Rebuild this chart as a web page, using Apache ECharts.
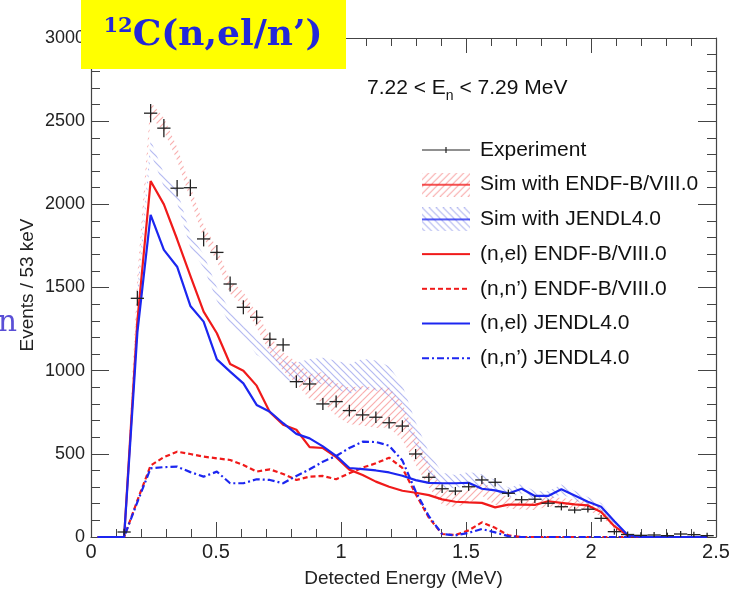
<!DOCTYPE html>
<html>
<head>
<meta charset="utf-8">
<title>12C(n,el/n') detected energy</title>
<script src="https://cdn.jsdelivr.net/npm/echarts@6/dist/echarts.min.js"></script>
<style>
  html, body { margin: 0; padding: 0; background: #fff; }
  #chart { width: 735px; height: 593px; }
</style>
</head>
<body>
<div id="chart"></div>
<script>
// bin centres (53 keV bins), MeV
const binCenters = [0.0265, 0.0795, 0.1325, 0.1855, 0.2385, 0.2915, 0.3445, 0.3975, 0.4505, 0.5035,
  0.5565, 0.6095, 0.6625, 0.7155, 0.7685, 0.8215, 0.8745, 0.9275, 0.9805, 1.0335,
  1.0865, 1.1395, 1.1925, 1.2455, 1.2985, 1.3515, 1.4045, 1.4575, 1.5105, 1.5635,
  1.6165, 1.6695, 1.7225, 1.7755, 1.8285, 1.8815, 1.9345, 1.9875, 2.0405, 2.0935,
  2.1465, 2.1995, 2.2525, 2.3055, 2.3585, 2.4115, 2.4645];
const binWidth = 0.053;

// experiment
const expCounts = [null, null, 30, 1435, 2548, 2458, 2097, 2100, 1792, 1711,
  1521, 1381, 1321, 1189, 1155, 934, 920, 800, 814, 760,
  734, 720, 687, 667, 499, 359, 290, 276, 302, 343,
  329, 263, 224, 227, 203, 182, 162, 167, 112, 32,
  15, 10, 12, 8, 18, 14, 8];
const expErr = [0, 0, 20, 45, 55, 55, 50, 50, 45, 45,
  45, 42, 42, 40, 40, 38, 38, 36, 36, 35,
  35, 35, 35, 35, 30, 28, 25, 25, 25, 25,
  25, 22, 22, 22, 22, 22, 20, 20, 20, 18,
  18, 18, 18, 18, 18, 18, 18];

// simulation totals with uncertainty (hatched bands)
const endfSim = [0, 0, 0, 1520, 2570, 2480, 2303, 2069, 1838, 1698,
  1503, 1433, 1303, 1157, 1054, 988, 903, 902, 827, 788,
  790, 776, 779, 693, 525, 368, 244, 224, 248, 293,
  233, 205, 195, 193, 215, 205, 196, 190, 150, 65,
  8, 0, 0, 0, 0, 0, 0];
const endfErr = [0, 0, 0, 50, 45, 40, 40, 40, 40, 40,
  40, 40, 45, 50, 55, 65, 75, 90, 100, 110,
  120, 120, 120, 110, 90, 70, 50, 45, 45, 45,
  40, 35, 30, 30, 30, 30, 30, 30, 25, 15,
  5, 0, 0, 0, 0, 0, 0];
const jendlSim = [0, 0, 0, 1440, 2349, 2146, 2048, 1779, 1658, 1461,
  1317, 1247, 1141, 1096, 1007, 987, 1000, 998, 975, 950,
  981, 971, 937, 828, 617, 450, 341, 333, 351, 338,
  308, 267, 290, 247, 247, 287, 250, 212, 182, 95,
  12, 0, 0, 0, 0, 0, 0];
const jendlErr = [0, 0, 0, 45, 40, 40, 40, 40, 40, 40,
  40, 40, 45, 50, 55, 60, 70, 80, 85, 90,
  90, 90, 90, 85, 75, 60, 45, 40, 40, 40,
  35, 30, 28, 28, 28, 28, 28, 28, 22, 14,
  5, 0, 0, 0, 0, 0, 0];

// components
const endfEl = [0, 0, 0, 1300, 2140, 2000, 1790, 1570, 1355, 1225,
  1040, 1000, 910, 750, 675, 645, 540, 535, 480, 405,
  373, 333, 302, 278, 266, 252, 226, 212, 208, 205,
  178, 195, 195, 193, 215, 205, 196, 190, 150, 65,
  8, 0, 0, 0, 0, 0, 0];
const endfInel = [0, 0, 0, 220, 430, 480, 513, 499, 483, 473,
  463, 433, 393, 407, 379, 343, 363, 367, 347, 383,
  417, 443, 477, 415, 259, 116, 18, 12, 40, 88,
  55, 10, 0, 0, 0, 0, 0, 0, 0, 0,
  0, 0, 0, 0, 0, 0, 0];
const jendlEl = [0, 0, 0, 1230, 1936, 1726, 1625, 1389, 1295, 1068,
  994, 924, 794, 753, 684, 620, 593, 545, 488, 415,
  408, 400, 388, 368, 342, 325, 323, 323, 326, 290,
  280, 262, 290, 247, 247, 287, 250, 212, 182, 95,
  12, 0, 0, 0, 0, 0, 0];
const jendlInel = [0, 0, 0, 210, 413, 420, 423, 390, 363, 393,
  323, 323, 347, 343, 323, 367, 407, 453, 487, 535,
  573, 571, 549, 460, 275, 125, 18, 10, 25, 48,
  28, 5, 0, 0, 0, 0, 0, 0, 0, 0,
  0, 0, 0, 0, 0, 0, 0];

const legendNames = ['Experiment', 'Sim with ENDF-B/VIII.0', 'Sim with JENDL4.0',
  '(n,el) ENDF-B/VIII.0', '(n,n\u2019) ENDF-B/VIII.0', '(n,el) JENDL4.0', '(n,n\u2019) JENDL4.0'];

const RED = '#f01a1a';
const BLUE = '#1c26f0';
const RED_HATCH = 'rgba(245,120,120,0.6)';
const BLUE_HATCH = 'rgba(120,130,230,0.55)';
const DASH = [5, 3];
const DASH_DOT = [7, 3, 2, 3];
const LINE_W = 2.2;
const FONT = '"Liberation Sans", Arial, Helvetica, sans-serif';

const pairs = (ys) => binCenters.map((x, i) => [x, ys[i]]);

// hatch pattern tile
function hatchTile(color, forward) {
  const s = 7;
  const c = document.createElement('canvas');
  c.width = s; c.height = s;
  const ctx = c.getContext('2d');
  ctx.strokeStyle = color;
  ctx.lineWidth = 1.2;
  ctx.beginPath();
  if (forward) {
    ctx.moveTo(0, s); ctx.lineTo(s, 0);
    ctx.moveTo(-1, 1); ctx.lineTo(1, -1);
    ctx.moveTo(s - 1, s + 1); ctx.lineTo(s + 1, s - 1);
  } else {
    ctx.moveTo(0, 0); ctx.lineTo(s, s);
    ctx.moveTo(s - 1, -1); ctx.lineTo(s + 1, 1);
    ctx.moveTo(-1, s - 1); ctx.lineTo(1, s + 1);
  }
  ctx.stroke();
  return c;
}

// legend glyphs (48 x 24)
function iconCanvas(draw) {
  const c = document.createElement('canvas');
  c.width = 48; c.height = 24;
  draw(c.getContext('2d'));
  return 'image://' + c.toDataURL();
}
const bandIcon = (hatchColor, lineColor, forward) => iconCanvas((ctx) => {
  ctx.fillStyle = ctx.createPattern(hatchTile(hatchColor, forward), 'repeat');
  ctx.fillRect(0, 0, 48, 24);
  ctx.strokeStyle = lineColor;
  ctx.lineWidth = 1.5;
  ctx.beginPath(); ctx.moveTo(0, 12); ctx.lineTo(48, 12); ctx.stroke();
});
const lineIcon = (color, dash) => iconCanvas((ctx) => {
  ctx.strokeStyle = color;
  ctx.lineWidth = LINE_W;
  ctx.setLineDash(dash);
  ctx.beginPath(); ctx.moveTo(0, 12); ctx.lineTo(48, 12); ctx.stroke();
});
const crossIcon = () => iconCanvas((ctx) => {
  ctx.strokeStyle = '#222';
  ctx.lineWidth = 1.2;
  ctx.beginPath();
  ctx.moveTo(0, 12); ctx.lineTo(48, 12);
  ctx.moveTo(24, 9); ctx.lineTo(24, 15);
  ctx.stroke();
});

const redHatch = hatchTile(RED_HATCH, true);
const blueHatch = hatchTile(BLUE_HATCH, false);

// experiment: horizontal bar = bin width, vertical bar = error
function renderCross(params, api) {
  const x = api.value(0), y = api.value(1), err = api.value(2);
  const c = api.coord([x, y]);
  const halfW = api.size([binWidth, 0])[0] / 2;
  const top = api.coord([x, y + err]);
  const bot = api.coord([x, Math.max(y - err, 0)]);
  const style = { stroke: '#222', lineWidth: 1.3 };
  return {
    type: 'group',
    children: [
      { type: 'line', shape: { x1: c[0] - halfW, y1: c[1], x2: c[0] + halfW, y2: c[1] }, style },
      { type: 'line', shape: { x1: c[0], y1: top[1], x2: c[0], y2: bot[1] }, style }
    ]
  };
}

// band: one quad per pair of neighbouring bins
function bandData(sim, err) {
  const out = [];
  for (let i = 0; i < binCenters.length - 1; i++) {
    out.push([binCenters[i], sim[i] - err[i], sim[i] + err[i],
      binCenters[i + 1], sim[i + 1] - err[i + 1], sim[i + 1] + err[i + 1]]);
  }
  return out;
}
function bandSeries(name, sim, err, hatch) {
  return {
    name, type: 'custom', z: 1, silent: true,
    encode: { x: [0, 3], y: [1, 2, 4, 5] },
    data: bandData(sim, err),
    renderItem: (params, api) => {
      if (api.value(2) <= 0 && api.value(5) <= 0) return null;
      const a = api.coord([api.value(0), api.value(1)]);
      const b = api.coord([api.value(3), api.value(4)]);
      const c = api.coord([api.value(3), api.value(5)]);
      const d = api.coord([api.value(0), api.value(2)]);
      return {
        type: 'polygon',
        shape: { points: [a, b, c, d] },
        style: { fill: { image: hatch, repeat: 'repeat' }, stroke: null }
      };
    }
  };
}

function lineSeries(name, ys, color, type) {
  return {
    name, type: 'line', symbol: 'none', data: pairs(ys), z: 3,
    itemStyle: { color },
    lineStyle: { color, width: LINE_W, type }
  };
}

const axisCommon = {
  type: 'value',
  axisLine: { show: true, onZero: false, lineStyle: { color: '#444', width: 1.2 } },
  splitLine: { show: false }
};

const chart = echarts.init(document.getElementById('chart'), null, { renderer: 'canvas' });
chart.setOption({
  animation: false,
  grid: { left: 91, right: 19, top: 38, bottom: 56 },
  legend: {
    orient: 'vertical', left: 417, top: 133,
    itemWidth: 48, itemHeight: 24, itemGap: 10.7,
    selectedMode: false,
    textStyle: { fontFamily: FONT, fontSize: 21, color: '#111', padding: [0, 0, 0, 5] },
    data: [
      { name: legendNames[0], icon: crossIcon() },
      { name: legendNames[1], icon: bandIcon(RED_HATCH, RED, true) },
      { name: legendNames[2], icon: bandIcon(BLUE_HATCH, BLUE, false) },
      { name: legendNames[3], icon: lineIcon(RED, []) },
      { name: legendNames[4], icon: lineIcon(RED, DASH) },
      { name: legendNames[5], icon: lineIcon(BLUE, []) },
      { name: legendNames[6], icon: lineIcon(BLUE, DASH_DOT) }
    ]
  },
  xAxis: [
    {
      ...axisCommon, position: 'bottom', min: 0, max: 2.5, interval: 0.5,
      axisTick: { inside: true, length: 15, lineStyle: { color: '#444' } },
      minorTick: { show: true, splitNumber: 5, length: 8, lineStyle: { color: '#444' } },
      axisLabel: { fontFamily: FONT, fontSize: 20, color: '#222', margin: 5 },
      name: 'Detected Energy (MeV)', nameLocation: 'middle', nameGap: 32,
      nameTextStyle: { fontFamily: FONT, fontSize: 19, color: '#222' }
    },
    {
      ...axisCommon, position: 'top', min: 0, max: 2.5, interval: 0.5,
      axisTick: { inside: true, length: 15, lineStyle: { color: '#444' } },
      minorTick: { show: true, splitNumber: 5, length: 8, lineStyle: { color: '#444' } },
      axisLabel: { show: false }
    }
  ],
  yAxis: [
    {
      ...axisCommon, position: 'left', min: 0, max: 3000, interval: 500,
      axisTick: { inside: true, length: 18, lineStyle: { color: '#444' } },
      minorTick: { show: true, splitNumber: 5, length: 9, lineStyle: { color: '#444' } },
      axisLabel: { fontFamily: FONT, fontSize: 18, color: '#222', margin: 6, formatter: (v) => String(v) }
    },
    {
      ...axisCommon, position: 'right', min: 0, max: 3000, interval: 500,
      axisTick: { inside: true, length: 18, lineStyle: { color: '#444' } },
      minorTick: { show: true, splitNumber: 5, length: 9, lineStyle: { color: '#444' } },
      axisLabel: { show: false }
    }
  ],
  graphic: [
    // y axis title
    {
      type: 'text', x: 28, y: 285, rotation: Math.PI / 2,
      style: {
        text: 'Events / 53 keV', align: 'center', verticalAlign: 'middle',
        font: '19px "Liberation Sans", Arial, sans-serif', fill: '#222'
      }
    },
    {
      type: 'rect', z: 100, shape: { x: 81, y: 0, width: 265, height: 69 },
      style: { fill: '#ffff00' }
    },
    {
      type: 'text', z: 101, x: 213, y: 36,
      style: {
        text: '{sup|12}{big|C(n,el/n\u2019)}',
        align: 'center', verticalAlign: 'middle',
        rich: {
          sup: { fontSize: 21, fontWeight: 'bold', fontFamily: '"DejaVu Serif", serif', fill: '#2328d8', verticalAlign: 'top', lineHeight: 40 },
          big: { fontSize: 36, fontWeight: 'bold', fontFamily: '"DejaVu Serif", serif', fill: '#2328d8', lineHeight: 40 }
        }
      }
    },
    {
      type: 'text', z: 101, x: 367, y: 88,
      style: {
        text: '{m|7.22 < E}{s|n}{m| < 7.29 MeV}',
        verticalAlign: 'middle',
        rich: {
          m: { fontSize: 21, fontFamily: FONT, fill: '#111', lineHeight: 30 },
          s: { fontSize: 14, fontFamily: FONT, fill: '#111', verticalAlign: 'bottom', lineHeight: 14 }
        }
      }
    },
    {
      type: 'text', z: 101, x: 17, y: 323,
      style: {
        text: 'n', align: 'right', verticalAlign: 'middle',
        font: '30px "DejaVu Serif", serif', fill: '#5a4fd6'
      }
    }
  ],
  series: [
    bandSeries(legendNames[1], endfSim, endfErr, redHatch),
    bandSeries(legendNames[2], jendlSim, jendlErr, blueHatch),
    lineSeries(legendNames[3], endfEl, RED, 'solid'),
    lineSeries(legendNames[4], endfInel, RED, DASH),
    lineSeries(legendNames[5], jendlEl, BLUE, 'solid'),
    lineSeries(legendNames[6], jendlInel, BLUE, DASH_DOT),
    {
      name: legendNames[0], type: 'custom', z: 4,
      itemStyle: { color: '#222' },
      renderItem: renderCross,
      encode: { x: 0, y: 1 },
      data: binCenters.map((x, i) => [x, expCounts[i], expErr[i]]).filter((d) => d[1] !== null)
    }
  ]
});
</script>
</body>
</html>
